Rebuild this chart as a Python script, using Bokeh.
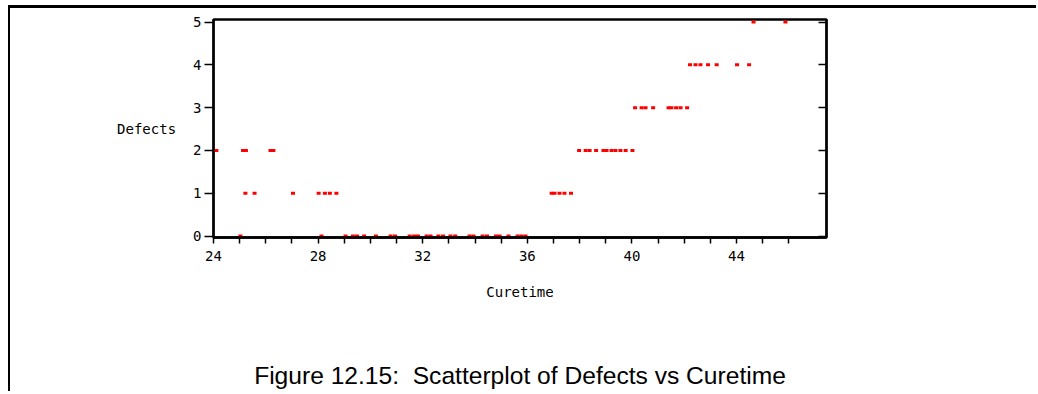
from bokeh.plotting import figure
from bokeh.models import Range1d, LinearAxis, FixedTicker, ColumnDataSource
from bokeh.embed import file_html
from bokeh.resources import INLINE

# ---- data ----
curetime = [
    # Defects = 0
    25.03, 28.13, 29.05, 29.33, 29.49, 29.76, 30.21, 30.77, 30.94, 31.50,
    31.67, 31.82, 32.15, 32.30, 32.60, 32.78, 33.06, 33.24, 33.79, 33.94,
    34.29, 34.46, 34.80, 34.94, 35.28, 35.63, 35.78, 35.93,
    # Defects = 1
    25.22, 25.57, 27.04, 28.02, 28.26, 28.45, 28.70, 36.93, 37.04, 37.23,
    37.42, 37.67,
    # Defects = 2
    24.11, 25.13, 25.24, 26.18, 26.29, 37.98, 38.23, 38.38, 38.63, 38.91,
    39.03, 39.22, 39.37, 39.56, 39.76, 40.02,
    # Defects = 3
    40.12, 40.37, 40.52, 40.81, 41.40, 41.51, 41.69, 41.86, 42.11,
    # Defects = 4
    42.22, 42.43, 42.62, 42.91, 43.24, 44.02, 44.48,
    # Defects = 5
    44.65, 45.87,
]
defects = [0] * 28 + [1] * 12 + [2] * 16 + [3] * 9 + [4] * 7 + [5] * 2

x_ticks = [24, 28, 32, 36, 40, 44]
x_minor_ticks = [25, 26, 27, 29, 30, 31, 33, 34, 35, 37, 38, 39, 41, 42, 43, 45, 46]
y_ticks = [0, 1, 2, 3, 4, 5]

x_label = "Curetime"
y_label = "Defects"
caption = "Figure 12.15:\u00a0\u00a0Scatterplot of Defects vs Curetime"

FONT = "DejaVu Sans Mono"

p = figure(
    width=1028, height=386,
    output_backend="svg", toolbar_location=None,
    x_range=Range1d(24, 47.44), y_range=Range1d(-0.035, 5.06),
    min_border_left=203, min_border_right=212,
    min_border_top=11, min_border_bottom=157,
)
p.styles = {
    "margin-top": "5px",
    "margin-left": "8px",
    "border-top": "3px solid black",
    "border-left": "2px solid black",
}
p.background_fill_color = "white"
p.border_fill_color = "white"
p.outline_line_color = "black"
p.outline_line_width = 2.5
p.xgrid.grid_line_color = None
p.ygrid.grid_line_color = None

xa = p.xaxis[0]
xa.ticker = FixedTicker(ticks=x_ticks, minor_ticks=x_minor_ticks)
xa.axis_line_color = "black"
xa.axis_line_width = 2.5
xa.major_tick_out = 6
xa.major_tick_in = 0
xa.minor_tick_out = 6
xa.minor_tick_in = 0
xa.major_tick_line_width = 1.5
xa.minor_tick_line_width = 1.5
xa.major_tick_line_color = "black"
xa.minor_tick_line_color = "black"
xa.major_label_standoff = 7
xa.major_label_text_font = FONT
xa.major_label_text_font_size = "14px"
xa.major_label_text_color = "black"
xa.axis_label = x_label
xa.axis_label_text_font = FONT
xa.axis_label_text_font_size = "14px"
xa.axis_label_text_font_style = "normal"
xa.axis_label_text_color = "black"
xa.axis_label_standoff = 20

ya = p.yaxis[0]
ya.ticker = FixedTicker(ticks=y_ticks)
ya.axis_line_color = "black"
ya.axis_line_width = 2
ya.major_tick_out = 9
ya.major_tick_in = 0
ya.minor_tick_out = 0
ya.minor_tick_in = 0
ya.major_tick_line_width = 1.5
ya.major_tick_line_color = "black"
ya.major_label_standoff = 3
ya.major_label_text_font = FONT
ya.major_label_text_font_size = "14px"
ya.major_label_text_color = "black"
ya.axis_label = y_label
ya.axis_label_orientation = "horizontal"
ya.axis_label_text_font = FONT
ya.axis_label_text_font_size = "14px"
ya.axis_label_text_font_style = "normal"
ya.axis_label_text_color = "black"
ya.axis_label_standoff = 14

ra = LinearAxis(
    ticker=FixedTicker(ticks=y_ticks),
    axis_line_color="black", axis_line_width=2,
    major_tick_in=8, major_tick_out=0,
    minor_tick_in=0, minor_tick_out=0,
    major_tick_line_width=1.5, major_tick_line_color="black",
    major_label_text_color=None,
)
p.add_layout(ra, "right")

# caption carried by an extra, otherwise invisible axis below the x axis
cap_axis = LinearAxis(
    ticker=FixedTicker(ticks=[]),
    axis_line_color=None,
    major_tick_in=0, major_tick_out=0, minor_tick_in=0, minor_tick_out=0,
    major_label_text_color=None,
    axis_label=caption,
    axis_label_text_font="Liberation Sans",
    axis_label_text_font_size="24.6px",
    axis_label_text_font_style="normal",
    axis_label_text_color="black",
    axis_label_standoff=59,
)
p.add_layout(cap_axis, "below")

src = ColumnDataSource(data=dict(x=curetime, y=defects))
p.rect(x="x", y="y", width=4, height=3, width_units="screen", height_units="screen",
       fill_color="#ff0000", line_color=None, source=src)

open("out.html", "w").write(file_html(p, INLINE))
